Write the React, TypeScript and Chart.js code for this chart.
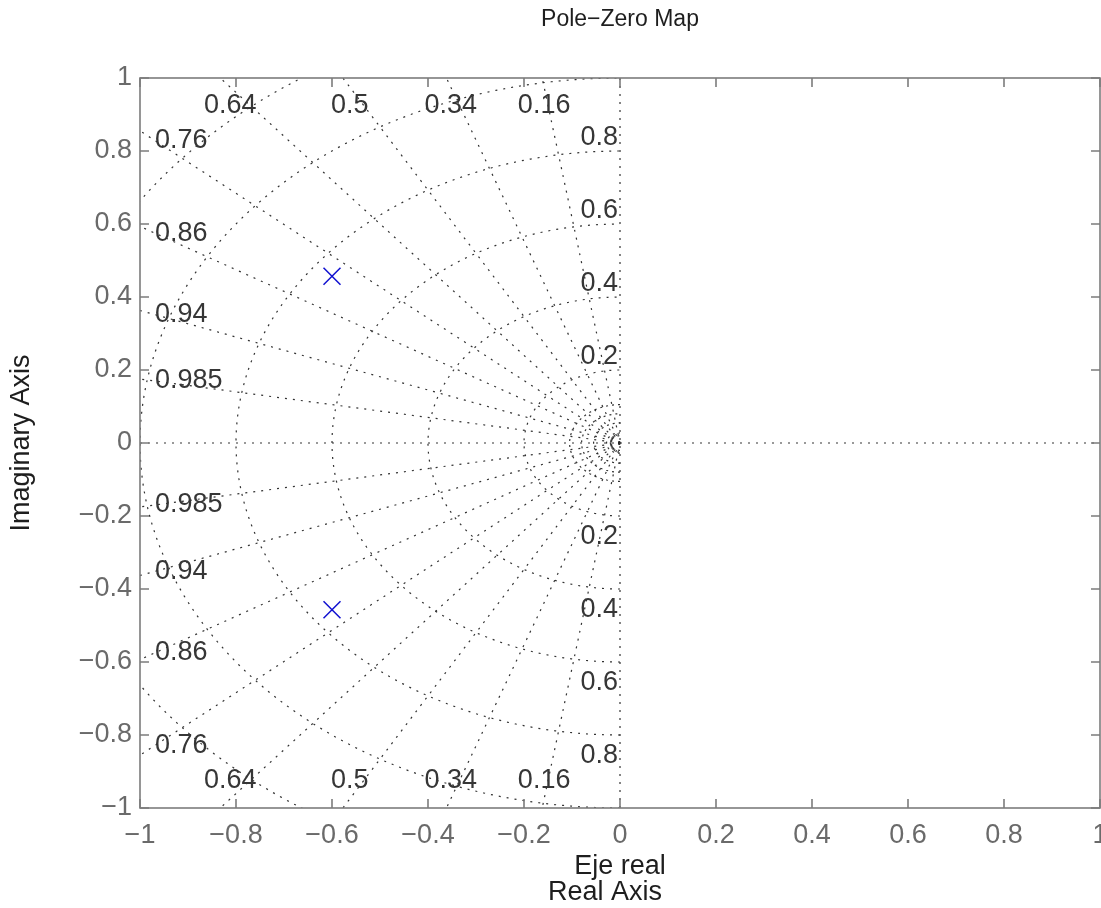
import React, { useEffect, useRef } from 'react';
import { Chart, registerables } from 'chart.js';

Chart.register(...registerables);

// ---------- text ----------
const TITLE = 'Pole\u2212Zero Map';
const X_TITLE = ['Eje real', 'Real Axis    '];
const Y_TITLE = 'Imaginary Axis';

// ---------- axes ----------
const AXIS_MIN = -1;
const AXIS_MAX = 1;
const TICK_STEP = 0.2;

// ---------- s-plane grid (sgrid) ----------
const dampingRatios = [0.16, 0.34, 0.5, 0.64, 0.76, 0.86, 0.94, 0.985];
const dampingLabels = ['0.16', '0.34', '0.5', '0.64', '0.76', '0.86', '0.94', '0.985'];
const naturalFreqs = [0.2, 0.4, 0.6, 0.8, 1.0, 1.2];
const naturalFreqsInner = [0.02, 0.028, 0.055, 0.08, 0.105];
const freqLabelValues = [0.2, 0.4, 0.6, 0.8];
const freqLabels = ['0.2', '0.4', '0.6', '0.8'];

// ---------- poles ----------
const poleReal = [-0.6, -0.6];
const poleImag = [0.457, -0.457];

const FONT = '"Liberation Sans", Arial, Helvetica, sans-serif';
const GRID_COLOR = 'rgba(40,40,40,0.95)';
const AXIS_COLOR = '#7c7c7c';
const TICK_COLOR = '#6a6a6a';
const LABEL_COLOR = '#363636';
const TITLE_COLOR = '#1e1e1e';
const POLE_COLOR = '#1010d0';

function fmtTick(v: number): string {
  const n = Math.round(v * 10) / 10;
  if (n === 0) return '0';
  return (n < 0 ? '\u2212' : '') + String(Math.abs(n));
}

function circlePoints(w: number, n: number) {
  const pts: { x: number; y: number }[] = [];
  for (let i = 0; i <= n; i++) {
    const t = -Math.PI / 2 + (Math.PI * i) / n;
    pts.push({ x: -w * Math.cos(t), y: w * Math.sin(t) });
  }
  return pts;
}

const noPadding = () => ({ left: 0, top: 0, right: 0, bottom: 0 });

const gridLabelPlugin = {
  id: 'gridLabels',
  afterDatasetsDraw(chart: any) {
    const { ctx } = chart;
    const xs = chart.scales.x;
    const ys = chart.scales.y;
    ctx.save();
    ctx.font = `27px ${FONT}`;
    ctx.fillStyle = LABEL_COLOR;
    dampingRatios.forEach((z, i) => {
      const s = Math.sqrt(1 - z * z);
      const txt = dampingLabels[i];
      if (s > z) {
        const ya = 0.975;
        const xa = (-ya * z) / s;
        ctx.textAlign = 'center';
        ctx.textBaseline = 'middle';
        ctx.fillText(txt, xs.getPixelForValue(xa), ys.getPixelForValue(ya) + 18);
        ctx.fillText(txt, xs.getPixelForValue(xa), ys.getPixelForValue(-ya) - 18);
      } else {
        const xa = -0.969;
        const ya = (-xa * s) / z;
        ctx.textAlign = 'left';
        ctx.textBaseline = 'middle';
        ctx.fillText(txt, xs.getPixelForValue(xa), ys.getPixelForValue(ya));
        ctx.fillText(txt, xs.getPixelForValue(xa), ys.getPixelForValue(-ya));
      }
    });
    ctx.textAlign = 'right';
    ctx.textBaseline = 'alphabetic';
    freqLabelValues.forEach((w, i) => {
      const px = xs.getPixelForValue(0) - 2;
      ctx.fillText(freqLabels[i], px, ys.getPixelForValue(w) - 6);
      ctx.fillText(freqLabels[i], px, ys.getPixelForValue(-w) + 28);
    });
    ctx.restore();
  },
};

const boxPlugin = {
  id: 'boxTicks',
  afterDraw(chart: any) {
    const { ctx, chartArea } = chart;
    const { left, right, top, bottom } = chartArea;
    const xs = chart.scales.x;
    const ys = chart.scales.y;
    const tl = 9;
    ctx.save();
    ctx.strokeStyle = AXIS_COLOR;
    ctx.lineWidth = 1.6;
    ctx.setLineDash([]);
    ctx.strokeRect(left, top, right - left, bottom - top);
    ctx.beginPath();
    xs.ticks.forEach((t: any) => {
      const p = xs.getPixelForValue(t.value);
      ctx.moveTo(p, bottom);
      ctx.lineTo(p, bottom - tl);
      ctx.moveTo(p, top);
      ctx.lineTo(p, top + tl);
    });
    ys.ticks.forEach((t: any) => {
      const p = ys.getPixelForValue(t.value);
      ctx.moveTo(left, p);
      ctx.lineTo(left + tl, p);
      ctx.moveTo(right, p);
      ctx.lineTo(right - tl, p);
    });
    ctx.stroke();
    ctx.restore();
  },
};

export default function App() {
  const ref = useRef<HTMLCanvasElement | null>(null);

  useEffect(() => {
    if (!ref.current) return;

    const gridStyle = {
      showLine: true,
      pointRadius: 0,
      pointHoverRadius: 0,
      borderColor: GRID_COLOR,
      backgroundColor: GRID_COLOR,
      borderWidth: 1.2,
      borderDash: [2, 6],
      fill: false,
      tension: 0,
      clip: 0,
      order: 2,
    };

    const datasets: any[] = [];

    datasets.push({
      label: 'Poles',
      data: poleReal.map((re, i) => ({ x: re, y: poleImag[i] })),
      pointStyle: 'crossRot',
      pointRadius: 12,
      pointHoverRadius: 12,
      pointBorderWidth: 1.5,
      borderColor: POLE_COLOR,
      backgroundColor: POLE_COLOR,
      showLine: false,
      order: 0,
    });

    // real and imaginary axis lines (zeta = 1 and zeta = 0)
    datasets.push({ ...gridStyle, data: [{ x: AXIS_MIN, y: 0 }, { x: AXIS_MAX, y: 0 }] });
    datasets.push({ ...gridStyle, data: [{ x: 0, y: AXIS_MIN }, { x: 0, y: AXIS_MAX }] });

    dampingRatios.forEach((z) => {
      const s = Math.sqrt(1 - z * z);
      datasets.push({ ...gridStyle, data: [{ x: 0, y: 0 }, { x: -2 * z, y: 2 * s }] });
      datasets.push({ ...gridStyle, data: [{ x: 0, y: 0 }, { x: -2 * z, y: -2 * s }] });
    });

    naturalFreqs.forEach((w) => {
      datasets.push({ ...gridStyle, data: circlePoints(w, 240) });
    });
    naturalFreqsInner.forEach((w) => {
      datasets.push({ ...gridStyle, borderDash: [2, 4], data: circlePoints(w, 60) });
    });

    const chart = new Chart(ref.current, {
      type: 'scatter',
      data: { datasets },
      options: {
        animation: false,
        responsive: false,
        devicePixelRatio: 1,
        events: [],
        layout: { autoPadding: false, padding: { left: 0, right: 1, top: 0, bottom: 0 } },
        plugins: {
          legend: { display: false },
          tooltip: { enabled: false },
          title: {
            display: true,
            text: TITLE,
            color: TITLE_COLOR,
            fullSize: false,
            font: { family: FONT, size: 23, weight: 'normal', lineHeight: 1.2 },
            padding: { top: 6, bottom: 44.4 },
          },
        },
        scales: {
          x: {
            type: 'linear',
            min: AXIS_MIN,
            max: AXIS_MAX,
            grid: { display: false, drawTicks: false },
            border: { display: false },
            ticks: {
              stepSize: TICK_STEP,
              autoSkip: false,
              maxRotation: 0,
              padding: 11,
              color: TICK_COLOR,
              font: { family: FONT, size: 27, lineHeight: 1.2 },
              callback: (v: any) => fmtTick(Number(v)),
            },
            title: {
              display: true,
              text: X_TITLE,
              color: TITLE_COLOR,
              font: { family: FONT, size: 27, lineHeight: 0.963 },
              padding: { top: 0, bottom: 2 },
            },
            afterFit: (scale: any) => {
              scale.height = 100;
              scale.paddingLeft = 0;
              scale.paddingRight = 0;
              scale.paddingTop = 0;
              scale.paddingBottom = 0;
              scale.getPadding = noPadding;
            },
          },
          y: {
            type: 'linear',
            min: AXIS_MIN,
            max: AXIS_MAX,
            grid: { display: false, drawTicks: false },
            border: { display: false },
            ticks: {
              stepSize: TICK_STEP,
              autoSkip: false,
              padding: 8,
              color: TICK_COLOR,
              font: { family: FONT, size: 27, lineHeight: 1.2 },
              callback: (v: any) => fmtTick(Number(v)),
            },
            title: {
              display: true,
              text: Y_TITLE,
              color: TITLE_COLOR,
              font: { family: FONT, size: 27, lineHeight: 1.2 },
              padding: { top: 5, bottom: 0 },
            },
            afterFit: (scale: any) => {
              scale.width = 140;
              scale.paddingLeft = 0;
              scale.paddingRight = 0;
              scale.paddingTop = 0;
              scale.paddingBottom = 0;
              scale.getPadding = noPadding;
            },
          },
        },
      },
      plugins: [gridLabelPlugin, boxPlugin],
    });

    return () => chart.destroy();
  }, []);

  return (
    <div style={{ position: 'absolute', left: 0, top: 0, width: 1101, height: 908, background: '#fff' }}>
      <canvas ref={ref} width={1101} height={908} style={{ display: 'block', width: 1101, height: 908 }} />
    </div>
  );
}
